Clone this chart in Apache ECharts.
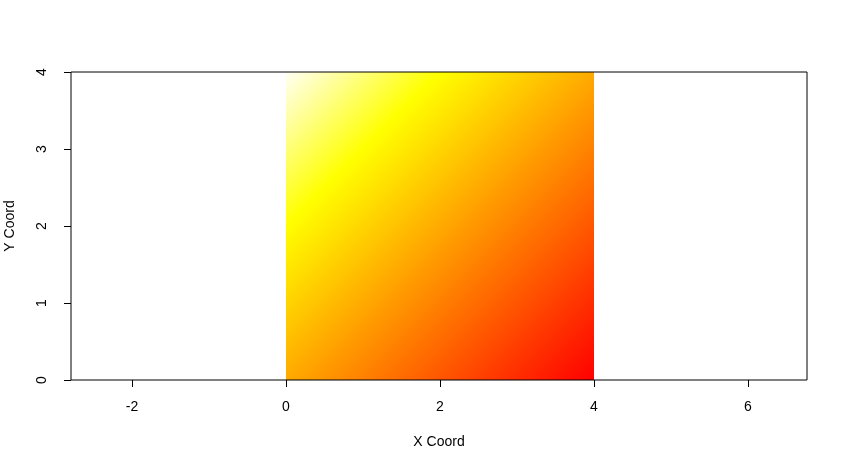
<!DOCTYPE html>
<html>
<head>
<meta charset="utf-8">
<script src="https://cdn.jsdelivr.net/npm/echarts@6/dist/echarts.min.js"></script>
<style>html,body{margin:0;padding:0;background:#fff}#c{width:844px;height:468px}</style>
</head>
<body>
<div id="c"></div>
<script>
// image extent (data units)
const imageX = [0, 4];
const imageY = [0, 4];
// heat.colors palette: position along z (0 = lowest, 1 = highest) and colour
const heatPos = [0, 0.75, 1];
const heatCol = ['#FF0000', '#FFFF00', '#FFFFF4'];
// axis ticks
const xTicks = [-2, 0, 2, 4, 6];
const yTicks = [0, 1, 2, 3, 4];
const xRange = [-2.792, 6.766];
const yRange = [0, 4];

const chart = echarts.init(document.getElementById('c'), null, {renderer: 'canvas'});
const font = 'Liberation Sans, Arial, Helvetica, sans-serif';
chart.setOption({
  animation: false,
  grid: {left: 71, right: 37, top: 72, bottom: 88, show: true, borderColor: '#000', borderWidth: 1,
         backgroundColor: 'transparent', z: 10, containLabel: false, outerBoundsMode: 'none'},
  xAxis: {
    type: 'value', min: xRange[0], max: xRange[1],
    name: 'X Coord', nameLocation: 'middle', nameGap: 55,
    nameTextStyle: {fontFamily: font, fontSize: 14, color: '#000'},
    axisLine: {show: false, onZero: false},
    splitLine: {show: false},
    axisTick: {show: true, length: 7, lineStyle: {color: '#000'}, customValues: xTicks},
    axisLabel: {fontFamily: font, fontSize: 14, color: '#000', margin: 20, customValues: xTicks}
  },
  yAxis: {
    type: 'value', min: yRange[0], max: yRange[1],
    name: 'Y Coord', nameLocation: 'middle', nameGap: 54, nameRotate: 90,
    nameTextStyle: {fontFamily: font, fontSize: 14, color: '#000'},
    axisLine: {show: false, onZero: false},
    splitLine: {show: false},
    axisTick: {show: true, length: 7, lineStyle: {color: '#000'}, customValues: yTicks},
    axisLabel: {fontFamily: font, fontSize: 14, color: '#000', margin: 22, rotate: 90, customValues: yTicks}
  },
  series: [{
    type: 'custom',
    data: [[imageX[0], imageY[0], imageX[1], imageY[1]]],
    renderItem: function (params, api) {
      const p0 = api.coord([api.value(0), api.value(3)]);
      const p1 = api.coord([api.value(2), api.value(1)]);
      // gradient from top-left (highest z) to bottom-right (lowest z)
      const stops = heatPos.map((p, i) => ({offset: 1 - p, color: heatCol[i]})).reverse();
      return {
        type: 'rect',
        shape: {x: p0[0], y: p0[1], width: p1[0] - p0[0], height: p1[1] - p0[1]},
        style: {fill: new echarts.graphic.LinearGradient(0, 0, 1, 1, stops)}
      };
    }
  }]
});
</script>
</body>
</html>
